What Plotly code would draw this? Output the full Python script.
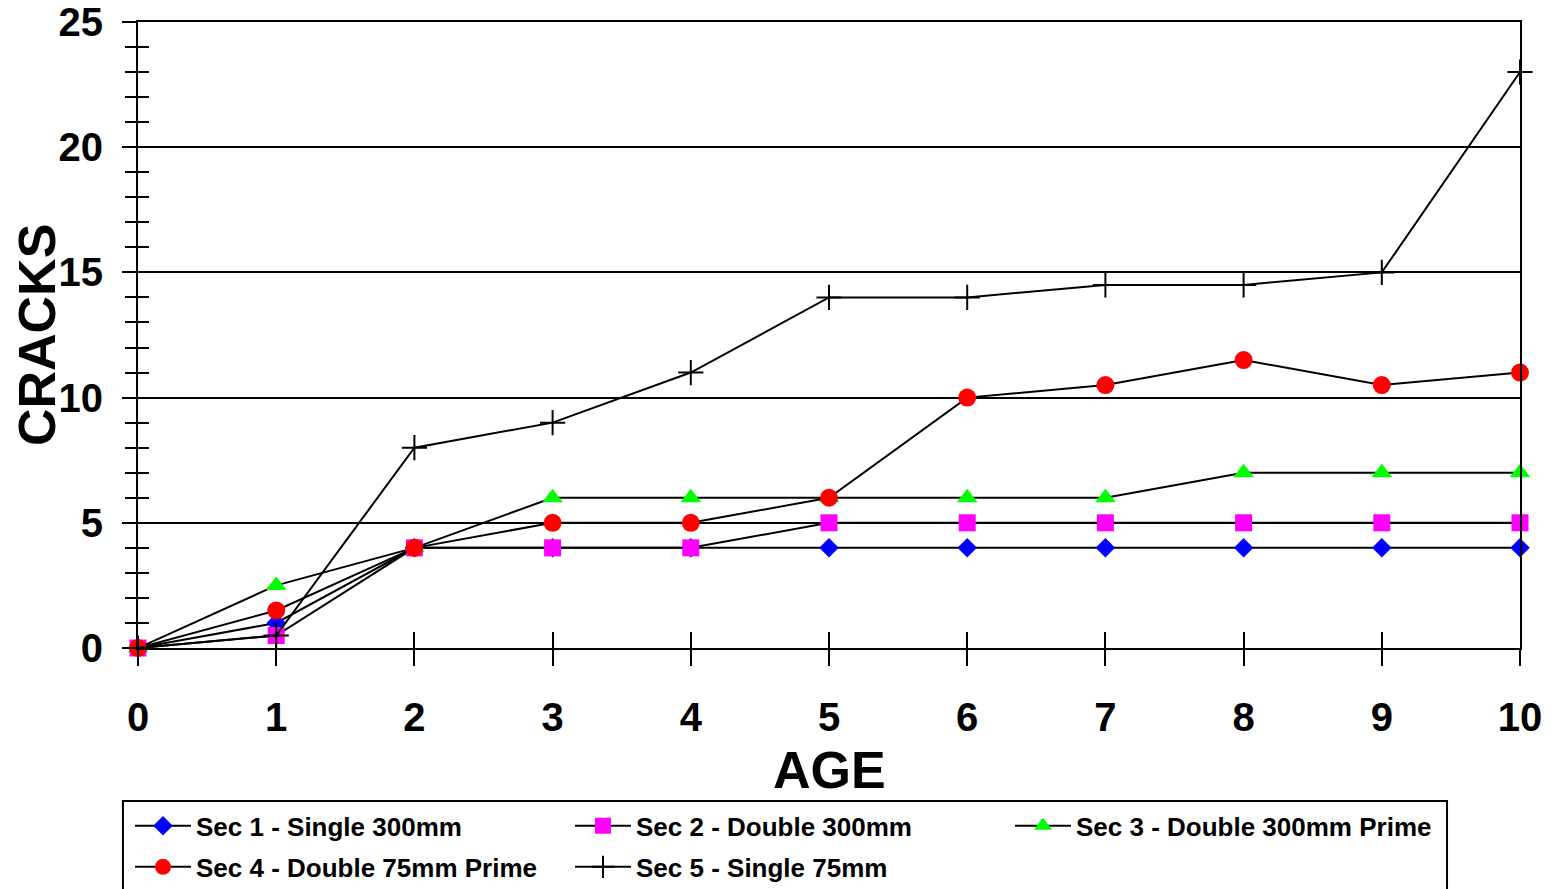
import plotly.graph_objects as go

# Crack counts by age for each pavement section
age = [0, 1, 2, 3, 4, 5, 6, 7, 8, 9, 10]
sec1 = [0, 1, 4, 4, 4, 4, 4, 4, 4, 4, 4]
sec2 = [0, 0.5, 4, 4, 4, 5, 5, 5, 5, 5, 5]
sec3 = [0, 2.5, 4, 6, 6, 6, 6, 6, 7, 7, 7]
sec4 = [0, 1.5, 4, 5, 5, 6, 10, 10.5, 11.5, 10.5, 11]
sec5 = [0, 0.5, 8, 9, 11, 14, 14, 14.5, 14.5, 15, 23]

names = [
    "Sec 1 - Single 300mm",
    "Sec 2 - Double 300mm",
    "Sec 3 - Double 300mm Prime",
    "Sec 4 - Double 75mm Prime",
    "Sec 5 - Single 75mm",
]

FONT = "Liberation Sans, Arial, sans-serif"

styles = [
    dict(symbol="diamond", size=15, color="#0000FF"),
    dict(symbol="square", size=17, color="#FF00FF"),
    dict(symbol="triangle-up", size=18, color="#00FF00"),
    dict(symbol="circle", size=18, color="#FF0000"),
    dict(symbol="cross-thin", size=18, color="black", line=dict(color="black", width=2)),
]
legends = ["legend", "legend", "legend", "legend2", "legend2"]

fig = go.Figure()
for name, ys, st, lg in zip(names, [sec1, sec2, sec3, sec4, sec5], styles, legends):
    fig.add_trace(go.Scatter(
        x=age, y=ys, name=name, mode="lines+markers",
        line=dict(color="black", width=2),
        marker=st, cliponaxis=False, legend=lg,
    ))

# Invisible trace so the overlay axes (crossing tick marks) get drawn
fig.add_trace(go.Scatter(x=[None], y=[None], xaxis="x2", yaxis="y2",
                         showlegend=False, hoverinfo="skip"))

tick_font = dict(family=FONT, size=40, color="black", weight="bold")
legend_font = dict(family=FONT, size=26, color="black", weight="bold")

legend_common = dict(
    orientation="h", x=-0.0058, xanchor="left", yanchor="middle",
    itemwidth=56, entrywidth=369, entrywidthmode="pixels",
    bgcolor="rgba(0,0,0,0)", font=legend_font,
)

fig.update_layout(
    width=1551, height=889,
    margin=dict(l=138, r=31, t=22, b=241, autoexpand=False),
    paper_bgcolor="white", plot_bgcolor="white",
    font=dict(family=FONT, color="black"),
    xaxis=dict(
        range=[0, 10], dtick=1, tick0=0,
        showline=True, linecolor="black", linewidth=2, mirror=True,
        ticks="outside", ticklen=16, tickwidth=2, tickcolor="black",
        showgrid=False, zeroline=False, tickfont=tick_font, ticklabelstandoff=17,
    ),
    yaxis=dict(
        range=[0, 25], dtick=5, tick0=0,
        showline=True, linecolor="black", linewidth=2, mirror=True,
        ticks="outside", ticklen=14, tickwidth=2, tickcolor="black",
        minor=dict(dtick=1, ticks="outside", ticklen=11, tickwidth=1.5,
                   tickcolor="black", showgrid=False),
        showgrid=True, gridcolor="black", gridwidth=1.5,
        zeroline=False, tickfont=tick_font, ticklabelstandoff=11,
    ),
    xaxis2=dict(
        range=[0, 10], dtick=1, tick0=0, overlaying="x", anchor="y2",
        ticks="inside", ticklen=16, tickwidth=2, tickcolor="black",
        showticklabels=False, showgrid=False, zeroline=False, showline=False,
    ),
    yaxis2=dict(
        range=[0, 25], dtick=1, tick0=0, overlaying="y", anchor="x2", side="left",
        ticks="inside", ticklen=11, tickwidth=1.5, tickcolor="black",
        showticklabels=False, showgrid=False, zeroline=False, showline=False,
    ),
    legend=dict(legend_common, y=-0.2843),
    legend2=dict(legend_common, y=-0.3498),
    shapes=[
        # legend frame
        dict(type="rect", xref="paper", yref="paper",
             x0=-0.0109, x1=0.9472, y0=-0.2444, y1=-0.41,
             line=dict(color="black", width=2), fillcolor="rgba(0,0,0,0)"),
    ],
    annotations=[
        dict(text="AGE", xref="paper", yref="paper", x=0.5, y=-0.195,
             xanchor="center", yanchor="middle", showarrow=False,
             font=dict(family=FONT, size=52, color="black", weight="bold")),
        dict(text="CRACKS", xref="paper", yref="paper", x=-0.073, y=0.5,
             xanchor="center", yanchor="middle", showarrow=False, textangle=-90,
             font=dict(family=FONT, size=52, color="black", weight="bold")),
    ],
)

fig.write_html("out.html")
